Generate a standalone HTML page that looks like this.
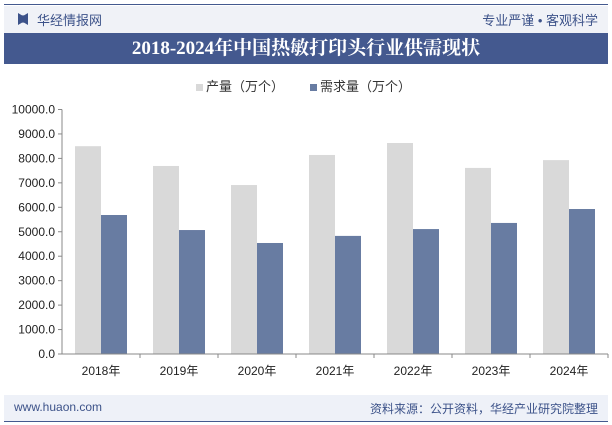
<!DOCTYPE html>
<html><head><meta charset="utf-8"><style>
body{margin:0;width:612px;height:425px;background:#fff;font-family:"Liberation Sans","Noto Sans CJK SC",sans-serif;position:relative;overflow:hidden}
.a{position:absolute}
</style></head><body>
<div class="a" style="left:4px;top:4px;width:604px;height:1px;background:#44598f"></div>
<div class="a" style="left:4px;top:6px;width:604px;height:27px;background:#f0f2f7"></div>
<div class="a" style="left:18px;top:13px;width:10px;height:12px;background:#3c5289;clip-path:polygon(0 0,40% 20%,60% 20%,100% 0,100% 100%,60% 80%,40% 80%,0 100%)"></div>
<div class="a" style="left:37px;top:10px;font-size:13px;color:#3c5289">华经情报网</div>
<div class="a" style="right:14px;top:10px;font-size:13px;color:#3c5289">专业严谨 • 客观科学</div>
<div class="a" style="left:4px;top:33px;width:604px;height:31px;background:#44598f;color:#fff;font-family:'Liberation Serif','Noto Serif CJK SC',serif;font-weight:bold;font-size:19px;text-align:center;line-height:31px">2018-2024年中国热敏打印头行业供需现状</div>
<div class="a" style="left:196px;top:76px;font-size:13px;color:#333"><span style="display:inline-block;width:7px;height:7px;background:#d9d9d9;margin-right:3px"></span>产量（万个）</div>
<div class="a" style="left:310px;top:76px;font-size:13px;color:#333"><span style="display:inline-block;width:7px;height:7px;background:#687ca2;margin-right:3px"></span>需求量（万个）</div>
<svg class="a" style="left:0;top:0" width="612" height="425" id="chart"></svg>
<div class="a" style="left:4px;top:395px;width:604px;height:26px;background:#eef1f8"></div>
<div class="a" style="left:4px;top:421px;width:604px;height:1px;background:#44598f"></div>
<div class="a" style="left:14px;top:400px;font-size:12px;color:#3c5289">www.huaon.com</div>
<div class="a" style="right:14px;top:400px;font-size:12px;color:#3c5289">资料来源：公开资料，华经产业研究院整理</div>
<script>
const categories=["2018年","2019年","2020年","2021年","2022年","2023年","2024年"];
const production=[8500,7690,6910,8140,8630,7610,7930];
const demand=[5685,5070,4540,4830,5110,5360,5930];
const ticks=[0,1000,2000,3000,4000,5000,6000,7000,8000,9000,10000];
const svg=document.getElementById('chart');
const NS='http://www.w3.org/2000/svg';
const x0=62,x1=608,y0=354,yTop=109.5,maxV=10000;
const cw=(x1-x0)/categories.length,bw=26;
const y=v=>y0-(v/maxV)*(y0-yTop);
function mk(t,a){const e=document.createElementNS(NS,t);for(const k in a)e.setAttribute(k,a[k]);svg.appendChild(e);return e;}
const ax=mk('line',{x1:x0,y1:yTop,x2:x0,y2:y0,stroke:'#888'});


ticks.forEach(t=>{
 const tk=mk('line',{x1:x0-4,x2:x0,y1:y(t),y2:y(t),stroke:'#888'});
 
 
 const tx=mk('text',{x:x0-7,y:y(t)+4,'text-anchor':'end','font-size':12,fill:'#222','font-family':'Liberation Sans'});
 tx.textContent=t.toFixed(1);
 
 
});
categories.forEach((c,i)=>{
 const cx=x0+cw*(i+0.5);
 const p=mk('rect',{x:cx-bw,y:y(production[i]),width:bw,height:y0-y(production[i]),fill:'#d9d9d9'});
 
 
 const d=mk('rect',{x:cx,y:y(demand[i]),width:bw,height:y0-y(demand[i]),fill:'#687ca2'});
 
 
 const tk=mk('line',{x1:x0+cw*(i+1),x2:x0+cw*(i+1),y1:y0,y2:y0+4,stroke:'#888'});
 
 
 const tx=mk('text',{x:cx,y:y0+21,'text-anchor':'middle','font-size':12,fill:'#222','font-family':'Liberation Sans, Noto Sans CJK SC'});
 tx.textContent=c;
 
 
});
const xa=mk('line',{x1:x0,y1:y0,x2:x1,y2:y0,stroke:'#888'});


</script>
</body></html>
